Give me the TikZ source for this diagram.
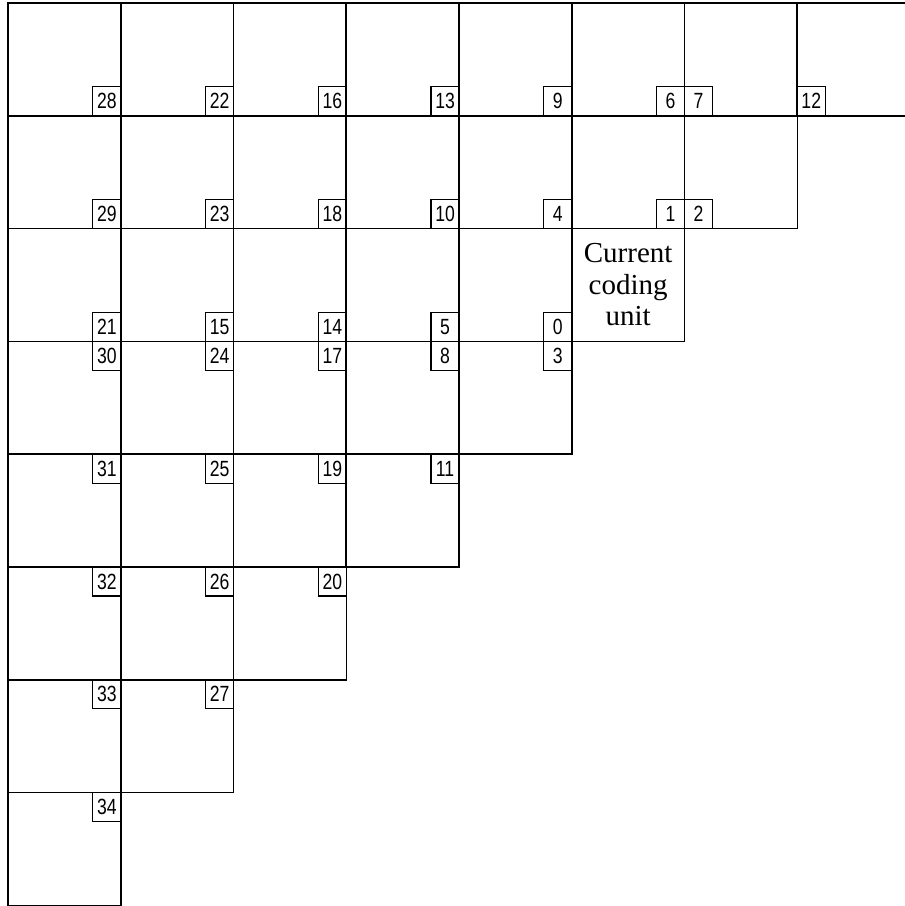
\documentclass[tikz,border=0pt]{standalone}
\usepackage{fontspec}
\setmainfont{Liberation Serif}
\newfontfamily\narrowsans[FakeStretch=0.8]{Liberation Sans}
\usetikzlibrary{positioning}

\begin{document}
\begin{tikzpicture}[
    x=0.5pt, y=-0.5pt,
    cell/.style={draw, line width=0.8pt, minimum size=56.4pt, inner sep=0pt,
                 outer sep=0pt, anchor=north west},
    num/.style={draw, line width=0.65pt, minimum width=14pt, minimum height=14.5pt,
                inner sep=0pt, outer sep=0pt,
                font=\narrowsans\fontsize{11}{12}\selectfont},
    cu/.style={align=center, inner sep=0pt, font=\fontsize{14.5}{15.75}\selectfont}
  ]
  \useasboundingbox (0,0) rectangle (905,906);
  % neighbouring blocks: row r holds 8-r blocks
  \foreach \r in {0,...,7}{
    \pgfmathtruncatemacro{\last}{7-\r}
    \foreach \c in {0,...,\last}
      \node[cell] (b\r-\c) at (8+112.75*\c, 3+112.8*\r) {};
  }
  \node[cu] (cur) at (b2-5.center) {Current\\coding\\unit};

  % candidate indices, above the current block
  \foreach \n [count=\c from 0] in {28,22,16,13,9,6}
    \node[num, anchor=south east] (n\n) at (b0-\c.south east) {\n};
  \node[num, anchor=south west] (n7) at (b0-6.south west) {7};
  \node[num, anchor=south west] (n12) at (b0-7.south west) {12};
  \foreach \n [count=\c from 0] in {29,23,18,10,4,1}
    \node[num, anchor=south east] (n\n) at (b1-\c.south east) {\n};
  \node[num, anchor=south west] (n2) at (b1-6.south west) {2};
  \foreach \n [count=\c from 0] in {21,15,14,5,0}
    \node[num, anchor=south east] (n\n) at (b2-\c.south east) {\n};

  % candidate indices, below the current block
  \foreach \n [count=\c from 0] in {30,24,17,8,3}
    \node[num, anchor=north east] (n\n) at (b3-\c.north east) {\n};
  \foreach \n [count=\c from 0] in {31,25,19,11}
    \node[num, anchor=north east] (n\n) at (b4-\c.north east) {\n};
  \foreach \n [count=\c from 0] in {32,26,20}
    \node[num, anchor=north east] (n\n) at (b5-\c.north east) {\n};
  \foreach \n [count=\c from 0] in {33,27}
    \node[num, anchor=north east] (n\n) at (b6-\c.north east) {\n};
  \node[num, anchor=north east] (n34) at (b7-0.north east) {34};
\end{tikzpicture}
\end{document}
